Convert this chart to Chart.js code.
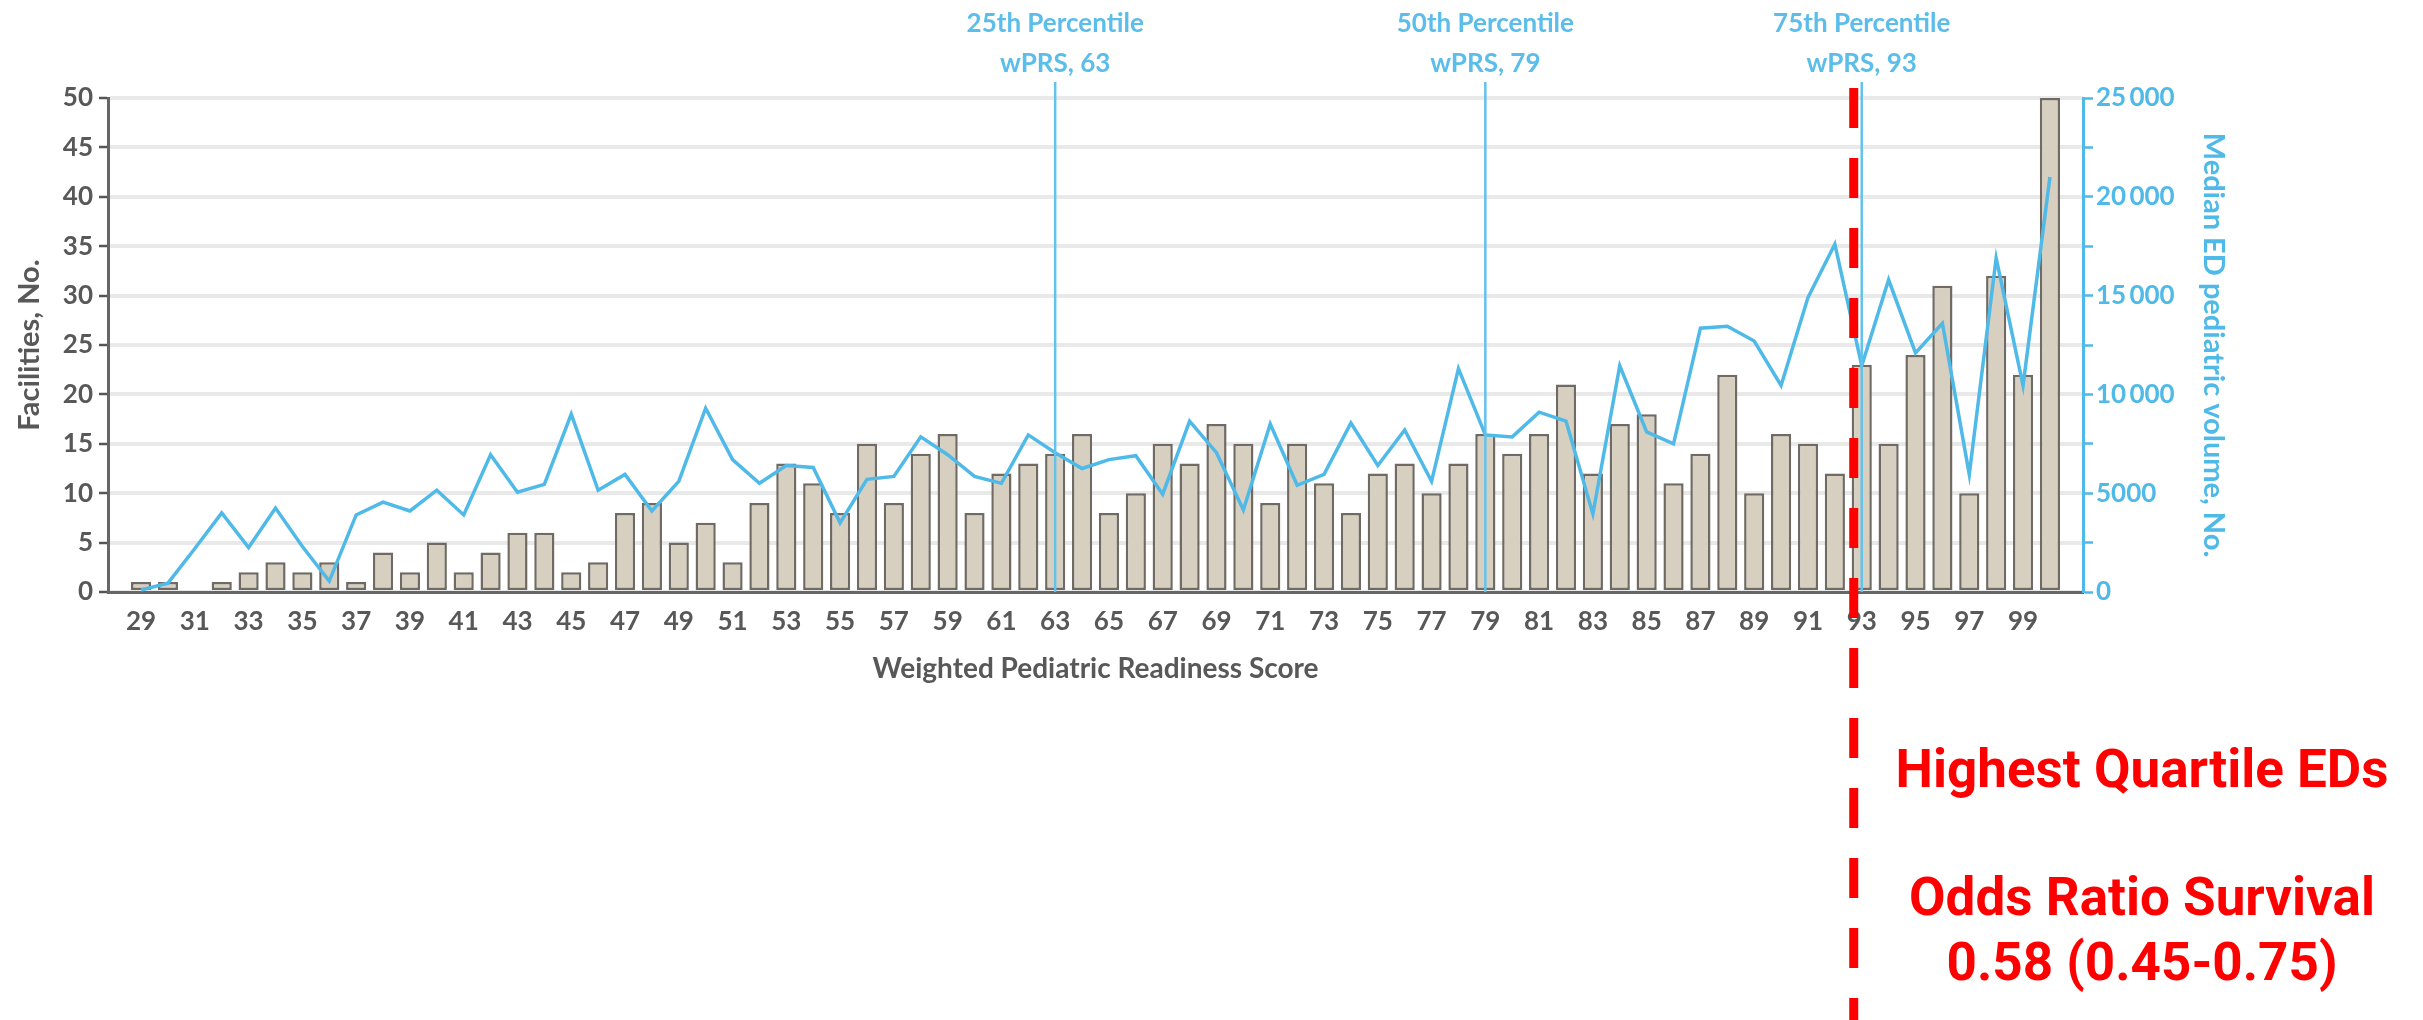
<!DOCTYPE html>
<html>
<head>
<meta charset="utf-8">
<script src="https://cdn.jsdelivr.net/npm/chart.js@4.4.1/dist/chart.umd.min.js"></script>
<style>
  html, body { margin: 0; padding: 0; background: #ffffff; }
  #wrap { width: 2423px; height: 1020px; position: relative; }
</style>
</head>
<body>
<div id="wrap"><canvas id="c"></canvas></div>
<script>
// ---- data ----
const scores = [29,30,31,32,33,34,35,36,37,38,39,40,41,42,43,44,45,46,47,48,49,50,51,52,53,54,55,56,57,58,59,60,61,62,63,64,
  65,66,67,68,69,70,71,72,73,74,75,76,77,78,79,80,81,82,83,84,85,86,87,88,89,90,91,92,93,94,95,96,97,98,99,100];
const facilities = [1,1,0,1,2,3,2,3,1,4,2,5,2,4,6,6,2,3,8,9,5,7,3,9,13,11,8,15,9,14,16,8,12,13,14,16,
  8,10,15,13,17,15,9,15,11,8,12,13,10,13,16,14,16,21,12,17,18,11,14,22,10,16,15,12,23,15,24,31,10,32,22,50];
const medianVolume = [100,450,2200,4000,2250,4250,2300,550,3900,4550,4100,5150,3900,6950,5050,5450,9000,5150,5950,4100,5600,9300,6700,5500,6400,6300,3500,5700,5850,7850,6950,5850,5500,7950,7050,6250,
  6700,6900,4950,8650,7050,4150,8500,5400,5950,8550,6400,8200,5600,11300,7950,7850,9100,8650,3950,11450,8100,7500,13350,13450,12700,10450,14900,17600,11450,15800,12100,13600,5950,16900,10450,21000];
const xTickLabels = [29,31,33,35,37,39,41,43,45,47,49,51,53,55,57,59,61,63,65,67,69,71,73,75,77,79,81,83,85,87,89,91,93,95,97,99];
const rightTickLabels = ['0', '5000', '10\u2009000', '15\u2009000', '20\u2009000', '25\u2009000'];
const percentiles = [63, 79, 93];
const percentileNames = ['25th Percentile', '50th Percentile', '75th Percentile'];
const annotationLines = ['Highest Quartile EDs', '', 'Odds Ratio Survival', '0.58 (0.45-0.75)'];

// ---- styles ----
const BLUE = '#4fb9e8';
const GRAY_TEXT = '#585858';
const AXIS_FONT = { family: 'Lato', weight: 'bold', size: 26 };

const annotate = {
  id: 'annotate',
  afterDatasetsDraw(chart) {
    const ctx = chart.ctx;
    const xs = chart.scales.x;
    const ys = chart.scales.y;
    ctx.save();
    // percentile lines + labels
    percentiles.forEach((p, i) => {
      const px = xs.getPixelForValue(p);
      ctx.strokeStyle = '#62c2ec';
      ctx.lineWidth = 2.5;
      ctx.beginPath();
      ctx.moveTo(px, 82);
      ctx.lineTo(px, ys.bottom);
      ctx.stroke();
      ctx.fillStyle = '#5bbde9';
      ctx.font = 'bold 26px Lato';
      ctx.textAlign = 'center';
      ctx.textBaseline = 'middle';
      ctx.fillText(percentileNames[i], px, 24);
      ctx.fillText('wPRS, ' + p, px, 64);
    });
    // red dashed line
    const rx = xs.getPixelForValue(percentiles[2]) - 8;
    ctx.strokeStyle = '#ff0000';
    ctx.lineWidth = 9;
    ctx.setLineDash([40, 30]);
    ctx.beginPath();
    ctx.moveTo(rx, 88);
    ctx.lineTo(rx, 1020);
    ctx.stroke();
    ctx.setLineDash([]);
    // red text
    ctx.fillStyle = '#ff0000';
    ctx.font = 'bold 53px Roboto';
    ctx.textAlign = 'center';
    ctx.textBaseline = 'alphabetic';
    const baselines = [787, 851, 915, 980];
    annotationLines.forEach((t, i) => { if (t) ctx.fillText(t, 2142, baselines[i]); });
    ctx.restore();
  }
};

new Chart(document.getElementById('c'), {
  data: {
    datasets: [
      {
        type: 'line',
        label: 'Median ED pediatric volume',
        data: scores.map((s, i) => ({ x: s, y: medianVolume[i] })),
        yAxisID: 'y1',
        borderColor: BLUE,
        borderWidth: 3.5,
        pointRadius: 0,
        tension: 0,
        order: 0
      },
      {
        type: 'bar',
        label: 'Facilities',
        data: scores.map((s, i) => ({ x: s, y: facilities[i] })),
        yAxisID: 'y',
        backgroundColor: '#d7d0c0',
        borderColor: '#6f6a63',
        borderWidth: 2.5,
        borderSkipped: false,
        barPercentage: 0.75,
        categoryPercentage: 1,
        order: 1
      }
    ]
  },
  options: {
    responsive: true,
    maintainAspectRatio: false,
    animation: false,
    layout: { padding: { top: 98, right: 190, bottom: 333, left: 0 } },
    plugins: { legend: { display: false }, tooltip: { enabled: false } },
    scales: {
      x: {
        type: 'linear',
        offset: false,
        min: 27.77,
        max: 101.23,
        afterBuildTicks: (s) => { s.ticks = xTickLabels.map(v => ({ value: v })); },
        afterFit: (s) => { s.height = 95; },
        grid: { display: false, drawTicks: false },
        border: { color: '#666666', width: 3 },
        ticks: { font: AXIS_FONT, color: GRAY_TEXT, padding: 14, autoSkip: false, maxRotation: 0,
                 callback: (v) => String(v) },
        title: { display: true, text: 'Weighted Pediatric Readiness Score', color: GRAY_TEXT,
                 font: { family: 'Lato', weight: 'bold', size: 28 }, padding: { top: 0, bottom: 1 } }
      },
      y: {
        position: 'left',
        min: 0, max: 50,
        afterFit: (s) => { s.width = 108; },
        ticks: { stepSize: 5, font: AXIS_FONT, color: GRAY_TEXT, padding: 6 },
        grid: { color: '#e9e9e9', lineWidth: 4, tickColor: '#555555', tickLength: 9, tickWidth: 2.5 },
        border: { color: '#666666', width: 3 },
        title: { display: true, text: 'Facilities, No.', color: GRAY_TEXT,
                 font: { family: 'Lato', weight: 'bold', size: 29 }, padding: { top: 12, bottom: 0 } }
      },
      y1: {
        position: 'right',
        min: 0, max: 25000,
        afterFit: (s) => { s.width = 150; },
        ticks: { stepSize: 2500, font: AXIS_FONT, color: BLUE, padding: 3,
                 callback: (v) => (v % 5000 === 0 ? rightTickLabels[v / 5000] : '') },
        grid: { drawOnChartArea: false, tickColor: BLUE, tickLength: 10, tickWidth: 2.5 },
        border: { color: BLUE, width: 3 },
        title: { display: true, text: 'Median ED pediatric volume, No.', color: BLUE,
                 font: { family: 'Lato', weight: 'bold', size: 29 }, padding: { top: 2, bottom: 0 } }
      }
    }
  },
  plugins: [annotate]
});
</script>
</body>
</html>
